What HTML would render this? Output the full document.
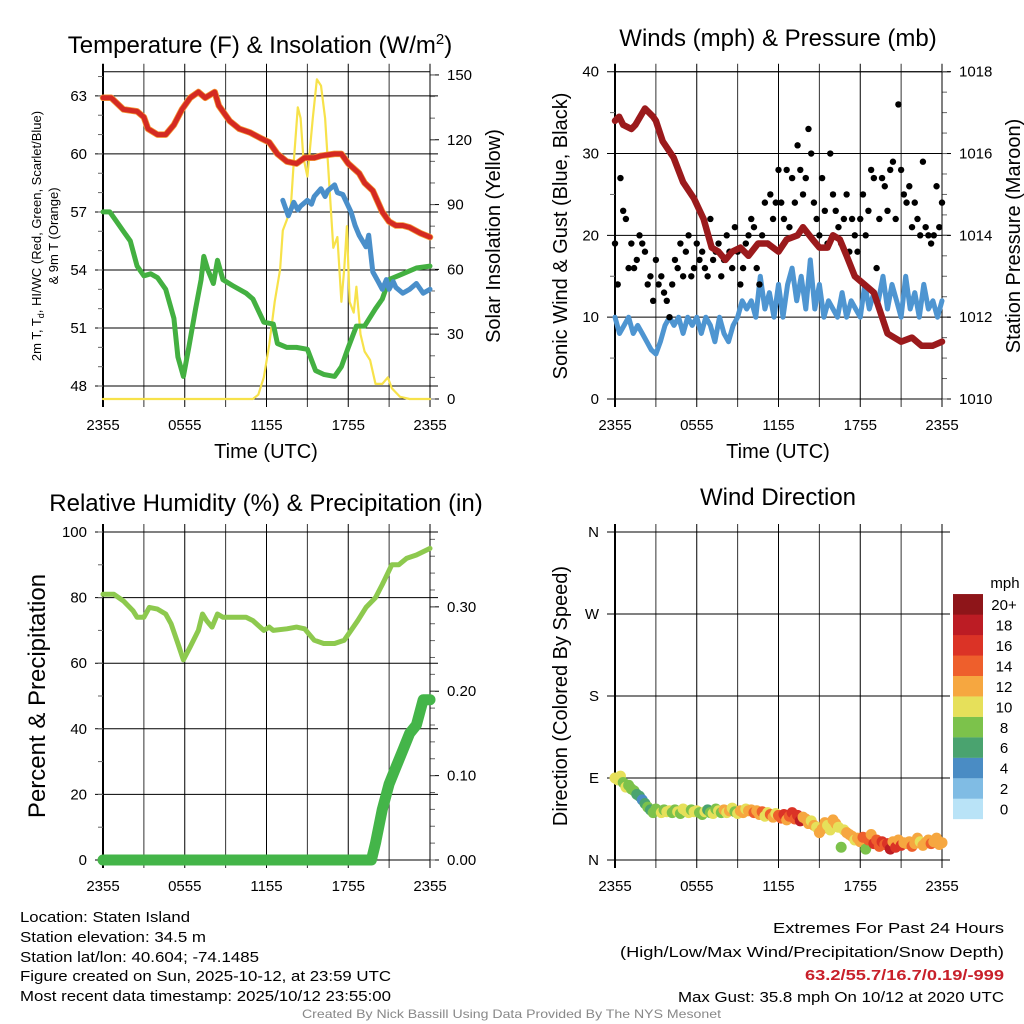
<!DOCTYPE html>
<html><head><meta charset="utf-8">
<style>
html,body{margin:0;padding:0;background:#fff;}
svg{display:block;font-family:"Liberation Sans",sans-serif;}
</style></head>
<body>
<svg id="root" width="1024" height="1024" viewBox="0 0 1024 1024" xmlns="http://www.w3.org/2000/svg">
<rect x="0" y="0" width="1024" height="1024" fill="#fff"/>
<g font-size="15" fill="#000">
<text x="20" y="922" textLength="170" lengthAdjust="spacingAndGlyphs">Location: Staten Island</text>
<text x="20" y="942" textLength="186" lengthAdjust="spacingAndGlyphs">Station elevation: 34.5 m</text>
<text x="20" y="962" textLength="239" lengthAdjust="spacingAndGlyphs">Station lat/lon: 40.604; -74.1485</text>
<text x="20" y="981" textLength="371" lengthAdjust="spacingAndGlyphs">Figure created on Sun, 2025-10-12, at 23:59 UTC</text>
<text x="20" y="1001" textLength="371" lengthAdjust="spacingAndGlyphs">Most recent data timestamp: 2025/10/12 23:55:00</text>
<text x="773" y="933" textLength="231" lengthAdjust="spacingAndGlyphs">Extremes For Past 24 Hours</text>
<text x="620" y="957" textLength="384" lengthAdjust="spacingAndGlyphs">(High/Low/Max Wind/Precipitation/Snow Depth)</text>
<text x="805" y="980" textLength="199" lengthAdjust="spacingAndGlyphs" fill="#c8202a" font-weight="bold">63.2/55.7/16.7/0.19/-999</text>
<text x="678" y="1002" textLength="326" lengthAdjust="spacingAndGlyphs">Max Gust: 35.8 mph On 10/12 at 2020 UTC</text>
<text x="302" y="1018" textLength="419" lengthAdjust="spacingAndGlyphs" font-size="12" fill="#888">Created By Nick Bassill Using Data Provided By The NYS Mesonet</text>
</g>
</svg>
<script>
// ---------- DATA ----------
const tempT=[0,0.6,1.5,2.5,3.0,3.3,4.0,4.6,5.2,5.8,6.4,7.0,7.5,8.2,8.5,9.3,10.0,10.8,11.6,12.2,12.8,13.5,14.2,14.8,15.5,16.0,17.0,17.5,18.0,18.8,19.2,19.8,20.5,21.0,21.5,22.0,22.5,23.3,24];
const tempV=[62.9,62.9,62.3,62.2,61.9,61.3,61.0,61.0,61.5,62.3,62.9,63.2,62.9,63.2,62.5,61.7,61.3,61.1,60.8,60.6,60.0,59.6,59.5,59.8,59.8,59.9,60.0,60.0,59.5,59.0,58.5,58.1,57.0,56.5,56.3,56.3,56.2,55.9,55.7];
const dewT=[0,0.5,1.0,1.5,2.0,2.5,3.0,3.5,4.0,4.6,5.2,5.5,5.9,6.3,6.8,7.2,7.4,7.7,8.1,8.4,8.8,9.5,10.5,11.0,11.8,12.5,12.8,13.5,14.2,15.0,15.6,16.2,17.0,17.5,18.0,18.6,19.2,20.0,20.5,21.0,22.0,23.0,24];
const dewV=[57.0,57.0,56.5,56.0,55.5,54.2,53.7,53.8,53.6,53.0,51.5,49.5,48.5,50.0,52.0,53.5,54.7,54.0,53.3,54.5,53.5,53.2,52.8,52.5,51.3,51.2,50.2,50.0,50.0,49.9,48.8,48.6,48.5,49.0,50.0,51.1,51.1,52.0,52.5,53.5,53.8,54.1,54.2];
const hiT=[13.2,13.6,14.0,14.3,14.5,15.0,15.3,15.5,16.0,16.3,16.5,17.0,17.2,17.6,18.2,18.5,18.8,19.3,19.5,19.8,20.2,20.5,20.8,21.0,21.3,21.5,22.0,22.5,23.0,23.5,24];
const hiV=[57.6,56.8,57.5,57.1,57.3,57.6,57.4,57.8,58.2,57.8,58.1,58.4,58.0,57.9,57.0,56.3,55.8,55.2,55.8,53.9,53.4,53.0,53.5,53.0,53.4,53.1,52.8,53.0,53.3,52.8,53.0];
const solT=[0,11.0,11.4,11.8,12.2,12.6,13.0,13.2,13.5,13.8,14.0,14.3,14.5,14.7,15.0,15.4,15.7,16.0,16.3,16.6,16.9,17.2,17.5,17.7,17.9,18.1,18.4,18.6,18.9,19.2,19.6,20.0,20.5,20.9,21.2,21.8,22.5,24];
const solV=[0,0,2,10,25,45,60,78,83,90,110,135,130,112,103,130,148,145,130,100,70,75,45,60,80,45,40,52,30,22,18,7,7,10,5,1,0,0];
const presT=[0,0.3,0.6,1.2,1.5,2.2,2.8,3.0,3.5,4.3,5.0,5.8,6.5,7.1,7.6,8.1,8.6,9.2,9.8,10.5,11.2,12.0,12.6,13.4,13.8,14.5,15.0,15.6,16.0,16.5,17.0,17.6,18.3,19.0,19.5,20.0,20.5,21.0,21.8,22.5,23.3,24];
const presV=[1016.8,1016.9,1016.7,1016.6,1016.7,1017.1,1016.9,1016.8,1016.3,1015.9,1015.3,1014.9,1014.4,1013.7,1013.6,1013.4,1013.6,1013.7,1013.5,1013.8,1013.8,1013.6,1013.9,1014.0,1014.2,1013.9,1013.7,1013.7,1014.0,1013.9,1013.5,1013.0,1012.8,1012.6,1012.1,1011.6,1011.5,1011.4,1011.5,1011.3,1011.3,1011.4];
const windV=[10,8,9,10,8,9,8,7,6,5.5, 7,9,10,9,10,8,10,9,10, 8,10,9,7,10,8,7,9,10, 12,11,12,10,15,11,13,10,14, 10,14,16,12,15,11,17,11,14, 10,12,11,10,13,10,12,11,10, 14,11,13,12,15,11,14,12,10, 15,11,13,10,14,11,12,10,12];
const gustV=[19,14,27,23,22,16,19,16,17,20, 19,18,14,15,12,17,14,15,13,12, 10,14,17,16,19,15,18,20,15,16, 19,17,18,16,15,22,17,18,19,15, 17,20,18,16,21,18,14,16,19,20, 22,21,16,14,20,24,19,25,22,24, 28,24,22,28,21,27,24,31,28,25, 27,33,30,24,22,20,27,23,19,30, 25,23,21,19,22,25,18,22,20,18, 22,25,20,23,28,27,16,22,27,26, 23,28,29,22,36,28,25,24,26,21, 24,22,20,29,21,20,19,20,26,21,24];
const rhT=[0,0.8,1.5,2.2,2.5,3.0,3.4,4.0,4.6,5.0,5.5,5.9,6.4,7.0,7.3,7.6,8.0,8.4,8.8,9.5,10.5,11.0,11.8,12.2,12.5,13.5,14.2,14.8,15.5,16.2,17.0,17.7,18.2,18.7,19.3,20.0,20.5,21.2,21.7,22.3,23.0,24];
const rhV=[81,81,79,76,74,74,77,76.5,75,72,66,61,65,70,75,73,71,75,74,74,74,73,70,71,70,70.5,71,70.5,67,66,66,67,70,73,77,80,84,90,90,92,93,95];
const prT=[0,19.7,20.0,20.5,21.0,21.5,22.0,22.5,23.0,23.5,24];
const prV=[0,0,0.02,0.06,0.09,0.11,0.13,0.15,0.16,0.19,0.19];
const dirV=[90,88,92,85,80,82,78,76,72,70, 66,62,58,55,52,56,54,52,55,53, 54,52,55,53,51,56,54,52,55,53, 54,52,50,53,55,52,51,56,54,52, 55,52,54,57,53,51,54,52,56,54, 55,52,54,50,53,48,52,50,47,51, 49,46,50,44,48,52,45,49,43,47, 45,40,43,38,36,30,34,41,38,33, 44,40,36,14,33,30,28,26,22,24, 20,25,12,22,28,18,22,15,20,17, 18,12,20,14,22,16,19,18,20,15, 18,24,20,16,19,22,18,20,24,17,19];
const dirSpd=[10,10,11,9,10,8,9,8,7,6, 5,6,8,7,9,8,9,10,9,10, 10,9,8,10,9,10,11,10,9,10, 10,8,9,10,7,9,11,8,10,9, 12,10,12,11,8,10,12,12,11,13, 12,14,13,12,14,10,11,15,12,11, 14,15,16,13,15,17,14,16,18,13, 12,13,11,12,10,12,13,12,11,10, 12,13,10,8,11,12,13,12,10,13, 12,14,8,15,12,16,14,15,17,14, 16,18,13,16,12,17,12,13,12,14, 12,13,11,12,13,12,14,13,12,13,12];
const xTickLabels=["2355","0555","1155","1755","2355"];
const legendLabels=["0","2","4","6","8","10","12","14","16","18","20+"];
const legendColors=["#b9e3f7","#80bce4","#4a8cc4","#4aa36f","#7cc24b","#e6e05a","#f6a740","#ee5f2c","#db3326","#bc1c24","#8e1519"];
const dirLabels=["N","E","S","W","N"];

// ---------- HELPERS ----------
const NS="http://www.w3.org/2000/svg";
const root=document.getElementById('root');
function mk(tag,attrs,parent,name){const e=document.createElementNS(NS,tag);for(const k in attrs)e.setAttribute(k,attrs[k]);


(parent||root).appendChild(e);return e;}
function txt(s,x,y,size,anchor,parent,name,extra){const t=mk('text',Object.assign({x:x,y:y,'font-size':size,'text-anchor':anchor||'middle',fill:'#000'},extra||{}),parent,name);t.textContent=s;return t;}

function panel(o){
  const g=mk('g',{},root,o.name);
  const X=h=>o.x0+h/24*(o.x1-o.x0);
  const YL=v=>o.y1-(v-o.lmin)/(o.lmax-o.lmin)*(o.y1-o.y0);
  const YR=v=>o.y1-(v-o.rmin)/(o.rmax-o.rmin)*(o.y1-o.y0);
  for(let i=0;i<=8;i++){const x=X(i*3);
    mk('line',{x1:x,x2:x,y1:o.y0-8,y2:o.y1+8,stroke:i%2?'#333':'#000','stroke-width':i==0?2:1},g,'x-grid-line');}
  xTickLabels.forEach((l,i)=>txt(l,X(i*6),o.y1+31,15,'middle',g,'x-tick-label'));
  o.lmaj.forEach((v,i)=>{const y=YL(v);
    mk('line',{x1:o.x0-8,x2:o.rt?o.x1:o.x1+8,y1:y,y2:y,stroke:'#000','stroke-width':1},g,'y-grid-line');
    txt(o.lLab[i],o.x0-16,y+5,15,'end',g,'left-tick-label');});
  (o.lmin2||[]).forEach(v=>{const y=YL(v);mk('line',{x1:o.x0-5,x2:o.x0,y1:y,y2:y,stroke:'#666','stroke-width':1},g,'left-minor-tick');});
  if(o.rmaj){o.rmaj.forEach((v,i)=>{const y=YR(v);
    mk('line',{x1:o.x1,x2:o.x1+9,y1:y,y2:y,stroke:'#000','stroke-width':1},g,'right-tick');
    txt(o.rLab[i],o.x1+17,y+5,15,'start',g,'right-tick-label');});
   (o.rmin2||[]).forEach(v=>{const y=YR(v);mk('line',{x1:o.x1,x2:o.x1+5,y1:y,y2:y,stroke:'#666','stroke-width':1},g,'right-minor-tick');});}
  mk('line',{x1:o.x0,x2:o.x1,y1:o.y0,y2:o.y0,stroke:'#000','stroke-width':1},g,'top-border');
  mk('line',{x1:o.x0,x2:o.x1,y1:o.y1,y2:o.y1,stroke:'#000','stroke-width':1},g,'bottom-border');
  mk('line',{x1:o.x1,x2:o.x1,y1:o.y0,y2:o.y1,stroke:'#000','stroke-width':1},g,'right-border');
  return {g,X,YL,YR};
}
function poly(g,T,V,X,Y,color,w,name,extra){const d=T.map((t,i)=>(i?'L':'M')+X(t).toFixed(1)+','+Y(V[i]).toFixed(1)).join('');
  return mk('path',Object.assign({d:d,fill:'none',stroke:color,'stroke-width':w,'stroke-linejoin':'round','stroke-linecap':'round'},extra||{}),g,name);}
function range(a,b,s){const r=[];for(let v=a;v<=b+1e-9;v+=s)r.push(+v.toFixed(4));return r;}

// ---------- PANEL 1 ----------
let p=panel({name:'temperature-panel',x0:103,x1:430,y0:71.7,y1:399,lmin:47.33,lmax:64.25,rmin:0,rmax:151.5,
  lmaj:[48,51,54,57,60,63],lLab:["48","51","54","57","60","63"],lmin2:range(48,64,1),
  rmaj:[0,30,60,90,120,150],rLab:["0","30","60","90","120","150"],rmin2:range(0,150,10)});
txt("",260,53,24,'middle',p.g,'temperature-title').innerHTML='Temperature (F) &amp; Insolation (W/m<tspan dy="-9" font-size="15">2</tspan><tspan dy="9">)</tspan>';
poly(p.g,solT,solV,p.X,p.YR,'#f7e24a',2.2,'insolation-line');
poly(p.g,tempT,tempV,p.X,p.YL,'#f59a36',6.5,'temp-9m-line');
poly(p.g,tempT,tempV,p.X,p.YL,'#d42a22',5,'temp-2m-line');
poly(p.g,dewT,dewV,p.X,p.YL,'#43b041',5,'dewpoint-line');
poly(p.g,hiT,hiV,p.X,p.YL,'#4a8fca',5,'heat-index-line');
txt("Time (UTC)",266,458,20,'middle',p.g,'x-axis-title');
let t1=txt("",0,0,13,'middle',p.g,'left-axis-title',{transform:'translate(41,236) rotate(-90)'});
t1.innerHTML='2m T, T<tspan font-size="9" dy="3">d</tspan><tspan dy="-3">, HI/WC (Red, Green, Scarlet/Blue)</tspan>';
txt("& 9m T (Orange)",0,0,13,'middle',p.g,'left-axis-title-line2',{transform:'translate(58,236) rotate(-90)'});
txt("Solar Insolation (Yellow)",0,0,20,'middle',p.g,'right-axis-title',{transform:'translate(500,236) rotate(-90)'});

// ---------- PANEL 2 ----------
p=panel({name:'winds-panel',x0:615,x1:942,y0:71.7,y1:399,lmin:0,lmax:40,rmin:1010,rmax:1018,
  lmaj:[0,10,20,30,40],lLab:["0","10","20","30","40"],lmin2:[5,15,25,35],
  rmaj:[1010,1012,1014,1016,1018],rLab:["1010","1012","1014","1016","1018"],rmin2:range(1010,1018,0.5),rt:false});
txt("Winds (mph) & Pressure (mb)",778,46,24,'middle',p.g,'winds-title');
poly(p.g,windV.map((v,i)=>i/3),windV,p.X,p.YL,'#4e95d1',5,'sonic-wind-line');
gustV.forEach((v,i)=>mk('circle',{cx:p.X(i*0.2),cy:p.YL(v),r:3.2,fill:'#000'},p.g,'gust-point'));
poly(p.g,presT,presV,p.X,p.YR,'#9b1a1c',6.5,'pressure-line');
txt("Time (UTC)",778,458,20,'middle',p.g,'x-axis-title');
txt("Sonic Wind & Gust (Blue, Black)",0,0,20,'middle',p.g,'left-axis-title',{transform:'translate(567,236) rotate(-90)'});
txt("Station Pressure (Maroon)",0,0,20,'middle',p.g,'right-axis-title',{transform:'translate(1020,236) rotate(-90)'});

// ---------- PANEL 3 ----------
p=panel({name:'humidity-panel',x0:103,x1:430,y0:532,y1:860,lmin:0,lmax:100,rmin:0,rmax:0.3887,
  lmaj:[0,20,40,60,80,100],lLab:["0","20","40","60","80","100"],lmin2:range(0,100,10),
  rmaj:[0,0.1,0.2,0.3],rLab:["0.00","0.10","0.20","0.30"],rmin2:range(0,0.38,0.02)});
txt("Relative Humidity (%) & Precipitation (in)",266,511,24,'middle',p.g,'humidity-title');
poly(p.g,rhT,rhV,p.X,p.YL,'#8dc94e',5,'humidity-line');
poly(p.g,prT,prV,p.X,p.YR,'#44b549',11,'precipitation-line');
txt("Percent & Precipitation",0,0,24,'middle',p.g,'left-axis-title',{transform:'translate(45,696) rotate(-90)'});

// ---------- PANEL 4 ----------
p=panel({name:'wind-direction-panel',x0:615,x1:942,y0:532,y1:860,lmin:0,lmax:360,
  lmaj:[0,90,180,270,360],lLab:dirLabels,rt:false});
txt("Wind Direction",778,505,24,'middle',p.g,'wind-direction-title');
dirV.forEach((d,i)=>{const b=Math.min(10,Math.floor(dirSpd[i]/2));
  mk('circle',{cx:p.X(i*0.2),cy:p.YL(d),r:5.5,fill:legendColors[b]},p.g,'direction-point');});
txt("Direction (Colored By Speed)",0,0,20,'middle',p.g,'left-axis-title',{transform:'translate(567,696) rotate(-90)'});
const lg=mk('g',{},p.g,'speed-legend');
txt("mph",1005,588,15,'middle',lg,'legend-title');
legendColors.forEach((c,i)=>{const y=819-(i+1)*20.45;
  mk('rect',{x:953,y:y,width:30,height:20.6,fill:c},lg,'legend-swatch');
  txt(legendLabels[i],1004,y+16,15,'middle',lg,'legend-label');});
</script>
</body></html>
